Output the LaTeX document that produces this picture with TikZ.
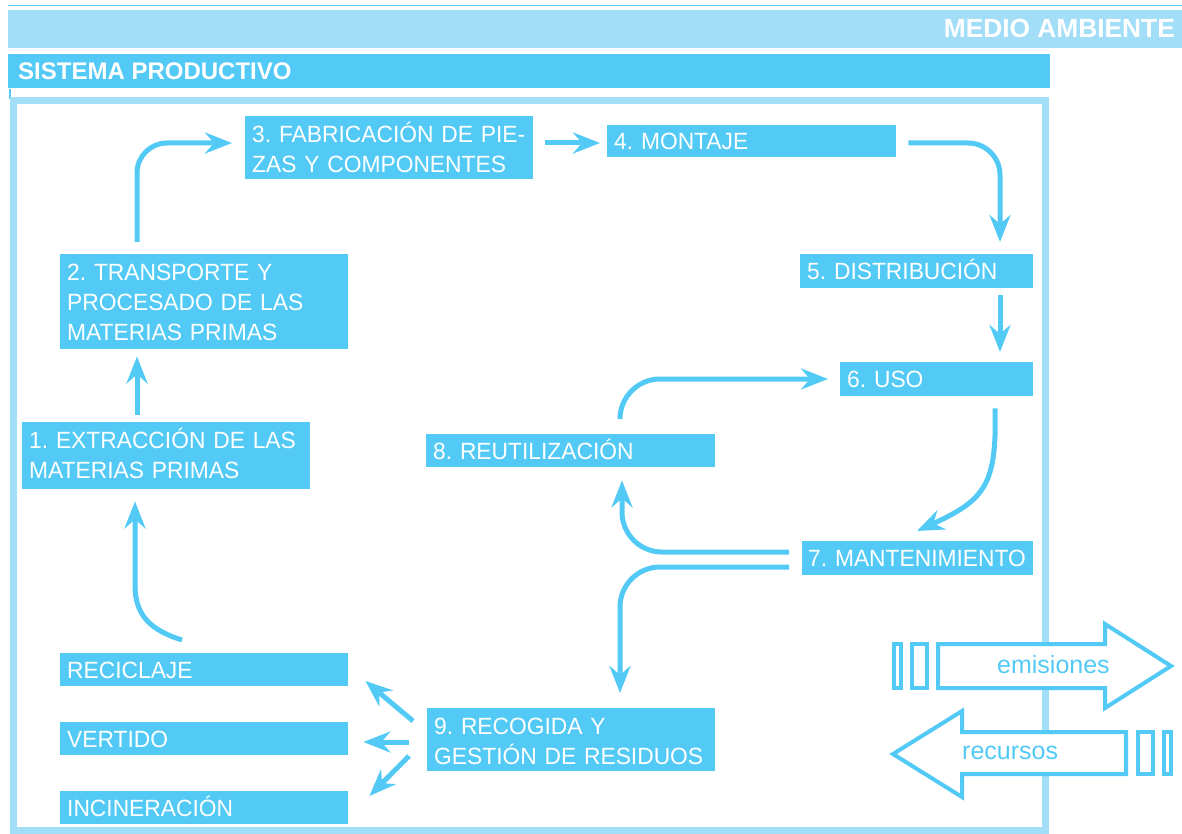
\documentclass[tikz,border=0pt]{standalone}
\usepackage{fontspec}
\setmainfont{Liberation Sans}
\newfontfamily\boxfamily[FakeStretch=0.97]{Liberation Sans}
\usetikzlibrary{arrows.meta,calc}

\definecolor{cbox}{HTML}{52CAF5}
\definecolor{clight}{HTML}{A2DEF8}

% no hyphenation inside the stage boxes; lines are broken by hand
\hyphenpenalty=10000
\exhyphenpenalty=10000
\hbadness=10000
\hfuzz=40pt
\frenchspacing

\newcommand\boxfont{\boxfamily\fontsize{23.5}{30}\selectfont\frenchspacing}
\newcommand\headfont{\bfseries\fontsize{24}{28}\selectfont}
\newcommand\bigheadfont{\bfseries\fontsize{26.3}{30}\selectfont}
\newcommand\tagfont{\fontsize{25}{28}\selectfont}

\tikzset{
  stagebox/.style={fill=cbox, text=white, font=\boxfont, align=left,
    anchor=north west, inner xsep=7pt, inner ysep=0pt},
  flow/.style={draw=cbox, line width=5pt,
    -{Stealth[length=27pt,width=21pt,inset=9pt]}},
  bigarrow/.style={draw=cbox, line width=4pt, fill=white, line join=miter},
}

\begin{document}
\begin{tikzpicture}[x=1pt,y=-1pt]
\useasboundingbox (0,0) rectangle (1182,834);

% header bars
\draw[cbox, line width=1.5pt] (8,5.5) -- (1182,5.5);
\fill[clight] (8,10) rectangle (1182,48);
\node[font=\bigheadfont, text=white, anchor=base east, inner sep=0pt] (medio) at (1175,38) {MEDIO AMBIENTE};
\fill[cbox] (8,54) rectangle (1050,88);
\node[font=\headfont, text=white, anchor=base west, inner sep=0pt] (sistema) at (18,80) {SISTEMA PRODUCTIVO};

% frame of the productive system
\draw[cbox, line width=1.5pt] (10,89) -- (10,99);
\draw[clight, line width=7pt] (13,101) rectangle (1045.5,830.5);

% stages
\node[stagebox, text width=274pt, text height=26pt, text depth=41pt] (b1) at (22,422)
  {\mbox{1. EXTRACCIÓN DE LAS}\\\mbox{MATERIAS PRIMAS}};
\node[stagebox, text width=274pt, text height=26pt, text depth=69pt] (b2) at (60,254)
  {\mbox{2. TRANSPORTE Y}\\\mbox{PROCESADO DE LAS}\\\mbox{MATERIAS PRIMAS}};
\node[stagebox, text width=274pt, text height=26pt, text depth=37pt] (b3) at (245,116)
  {\mbox{3. FABRICACIÓN DE PIE-}\\\mbox{ZAS Y COMPONENTES}};
\node[stagebox, text width=275pt, text height=24.5pt, text depth=7.5pt] (b4) at (607,125)
  {\mbox{4. MONTAJE}};
\node[stagebox, text width=219pt, text height=25.5pt, text depth=8.5pt] (b5) at (800,254)
  {\mbox{5. DISTRIBUCIÓN}};
\node[stagebox, text width=179pt, text height=25.5pt, text depth=8.5pt] (b6) at (840,362)
  {\mbox{6. USO}};
\node[stagebox, text width=219pt, text height=25.5pt, text depth=8.5pt, inner xsep=6pt] (b7) at (802,541)
  {\mbox{7. MANTENIMIENTO}};
\node[stagebox, text width=275pt, text height=25pt, text depth=8pt] (b8) at (426,434)
  {\mbox{8. REUTILIZACIÓN}};
\node[stagebox, text width=274pt, text height=26pt, text depth=37pt] (b9) at (427,708)
  {\mbox{9. RECOGIDA Y}\\\mbox{GESTIÓN DE RESIDUOS}};
\node[stagebox, text width=274pt, text height=25pt, text depth=8pt] (rec) at (60,653)
  {RECICLAJE};
\node[stagebox, text width=274pt, text height=25pt, text depth=8pt] (ver) at (60,722)
  {VERTIDO};
\node[stagebox, text width=274pt, text height=25pt, text depth=8pt] (inc) at (60,791)
  {INCINERACIÓN};

% flows between stages
\draw[flow] ($(rec.north west)+(122,-13)$) .. controls (150,630) and (135,615) .. (135,585)
  -- ($(b1.south west)+(113,12)$);
\draw[flow] ($(b1.north west)+(115,-7)$) -- ($(b2.south west)+(77,7)$);
\draw[flow, rounded corners=30pt] ($(b2.north west)+(77,-12)$) |- ($(b3.north west)+(-13,27)$);
\draw[flow] ($(b3.north east)+(12,27)$) -- ($(b4.north west)+(-7,18)$);
\draw[flow, rounded corners=32pt] ($(b4.north east)+(12,18)$) -| ($(b5.north west)+(200,-12)$);
\draw[flow] ($(b5.south west)+(200,7)$) -- ($(b6.north west)+(160,-10)$);
\draw[flow] ($(b6.south west)+(155,12)$) .. controls (997,485) and (985,500) .. ($(b7.north west)+(115,-10)$);
\draw[flow, rounded corners=40pt] ($(b7.north west)+(-13,11)$) -| ($(b8.south west)+(196,13)$);
\draw[flow, rounded corners=40pt] ($(b7.north west)+(-13,26)$) -| ($(b9.north west)+(193,-15)$);
\draw[flow, rounded corners=40pt] ($(b8.north west)+(194,-16)$) |- ($(b6.north west)+(-12,17)$);
\draw[flow] ($(b9.north west)+(-14,13)$) -- ($(rec.north east)+(17,28)$);
\draw[flow] ($(b9.north west)+(-18,34)$) -- ($(ver.north east)+(15,20)$);
\draw[flow] ($(b9.north west)+(-18,48)$) -- ($(inc.north east)+(21,5)$);

% exchanges with the environment
\draw[bigarrow] (894,644) rectangle (901,688);
\draw[bigarrow] (912,644) rectangle (927,688);
\draw[bigarrow] (938,644) -- (1105,644) -- (1105,624) -- (1171,666) -- (1105,708)
  -- (1105,688) -- (938,688) -- cycle;
\node[font=\tagfont, text=cbox, anchor=base west, inner sep=0pt] (emis) at (997,673) {emisiones};

\draw[bigarrow] (893,754) -- (962,711) -- (962,732) -- (1126,732) -- (1126,774)
  -- (962,774) -- (962,797) -- cycle;
\draw[bigarrow] (1138,732) rectangle (1153,774);
\draw[bigarrow] (1164,732) rectangle (1171,774);
\node[font=\tagfont, text=cbox, anchor=base west, inner sep=0pt] (recur) at (962,759) {recursos};

\end{tikzpicture}
\end{document}
